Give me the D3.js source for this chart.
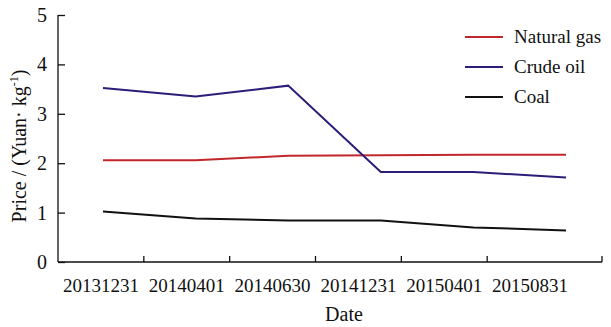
<!DOCTYPE html>
<html>
<head>
<meta charset="utf-8">
<script src="https://cdn.jsdelivr.net/npm/d3@7"></script>
<style>
  body { margin: 0; background: #fff; }
  svg { display: block; font-family: "Liberation Serif", "Times New Roman", serif; }
</style>
</head>
<body>
<svg id="chart" width="611" height="327"></svg>
<script>
// Energy price series by reporting date (Yuan per kg)
const dates = ["20131231", "20140401", "20140630", "20141231", "20150401", "20150831"];
const naturalGas = [2.06, 2.06, 2.15, 2.16, 2.17, 2.17];
const crudeOil = [3.52, 3.35, 3.57, 1.82, 1.82, 1.71];
const coal = [1.02, 0.88, 0.84, 0.84, 0.70, 0.64];
const yTicks = [0, 1, 2, 3, 4, 5];

const seriesNames = ["Natural gas", "Crude oil", "Coal"];
const seriesValues = [naturalGas, crudeOil, coal];
const seriesColors = ["#c1272d", "#2b1d78", "#111111"];

const svg = d3.select("#chart");
const margin = { left: 58, top: 15, bottom: 65 };
const plotH = 327 - margin.top - margin.bottom;  // 247
const axisLen = 544;

const g = svg.append("g").attr("transform", `translate(${margin.left},${margin.top})`);

// Category bands for the axis labels
const xBand = d3.scaleBand().domain(dates).range([0, 515]);
// Positions of the plotted points along the axis
const xLine = d3.scalePoint().domain(dates).range([45, 508]);
const y = d3.scaleLinear().domain([0, 5]).range([plotH, 0]);

// Y axis with inward ticks
const yAxis = d3.axisLeft(y).tickValues(yTicks).tickSize(-7).tickPadding(11).tickFormat(d3.format("d"));
const yG = g.append("g").call(yAxis);
yG.select(".domain").attr("d", `M0,0V${plotH}`).attr("stroke", "#111").attr("stroke-width", 1.3);
yG.selectAll(".tick line").attr("stroke", "#111").attr("stroke-width", 1.3);
yG.selectAll(".tick text").attr("font-size", 20).attr("fill", "#111").attr("font-family", "Liberation Serif");

// X axis line, labels at band centres, inward ticks at band boundaries
const xG = g.append("g").attr("transform", `translate(0,${plotH})`);
xG.append("path").attr("d", `M0,0H${axisLen}`).attr("stroke", "#111").attr("stroke-width", 1.3).attr("fill", "none");
const boundaries = dates.slice(1).map(d => xBand(d)).concat([axisLen]);
xG.selectAll("line.tick").data(boundaries).join("line")
  .attr("x1", d => d).attr("x2", d => d).attr("y1", 0).attr("y2", -6)
  .attr("stroke", "#111").attr("stroke-width", 1.3);
xG.selectAll("text.lbl").data(dates).join("text")
  .attr("x", d => xBand(d) + xBand.bandwidth() / 2)
  .attr("y", 30)
  .attr("text-anchor", "middle")
  .attr("font-size", 19)
  .attr("fill", "#111")
  .text(d => d);

// Axis titles
svg.append("text")
  .attr("x", margin.left + 286).attr("y", 321)
  .attr("text-anchor", "middle").attr("font-size", 20).attr("fill", "#111")
  .text("Date");

const yTitle = svg.append("text")
  .attr("transform", `translate(26,${margin.top + 131}) rotate(-90)`)
  .attr("text-anchor", "middle").attr("font-size", 20).attr("fill", "#111");
yTitle.append("tspan").text("Price / (Yuan· kg");
yTitle.append("tspan").attr("font-size", 12).attr("dy", -8).text("-1");
yTitle.append("tspan").attr("dy", 8).text(")");

// Series lines
const line = d3.line().x((d, i) => xLine(dates[i])).y(d => y(d));
seriesValues.forEach((vals, k) => {
  g.append("path")
    .datum(vals)
    .attr("d", line)
    .attr("fill", "none")
    .attr("stroke", seriesColors[k])
    .attr("stroke-width", 2);
});

// Legend
const legend = svg.append("g").attr("transform", "translate(465,37)");
seriesNames.forEach((name, k) => {
  const row = legend.append("g").attr("transform", `translate(0,${k * 30})`);
  row.append("line").attr("x1", 0).attr("x2", 38).attr("y1", 0).attr("y2", 0)
    .attr("stroke", seriesColors[k]).attr("stroke-width", 2);
  row.append("text").attr("x", 49).attr("y", 6).attr("font-size", 19).attr("fill", "#111").text(name);
});
</script>
</body>
</html>
